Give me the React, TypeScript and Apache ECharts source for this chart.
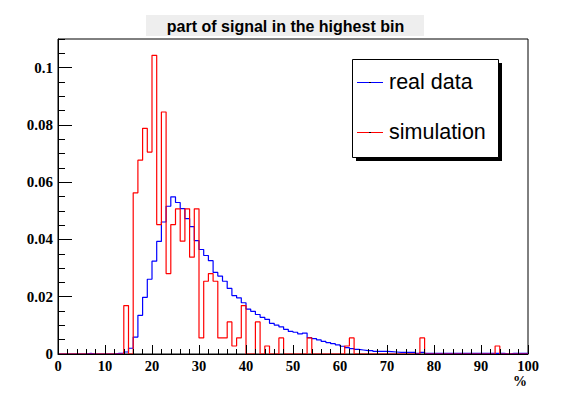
import React, { useEffect, useRef } from 'react';
import * as echarts from 'echarts';

// histogram range (100 bins of width 1 between 0 and 100 %)
const xRange = [0, 100];

// "real data" – normalised bin contents, bins 0..99
const realData = [
  0, 0, 0, 0, 0, 0, 0.0002, 0, 0, 0,
  0, 0, 0.0002, 0.0003, 0.0007, 0.002, 0.0059, 0.0135, 0.0198, 0.0261,
  0.0324, 0.0393, 0.0461, 0.0516, 0.0549, 0.0529, 0.0508, 0.0473, 0.0445, 0.0396,
  0.0365, 0.0344, 0.0326, 0.0285, 0.0272, 0.0254, 0.0229, 0.0204, 0.0196, 0.0179,
  0.0157, 0.0149, 0.0138, 0.0128, 0.0121, 0.0107, 0.0101, 0.0095, 0.0086, 0.0079,
  0.0076, 0.007, 0.0073, 0.0057, 0.0054, 0.0049, 0.0044, 0.004, 0.0036, 0.0032,
  0.0027, 0.0022, 0.0019, 0.0016, 0.0014, 0.0012, 0.0012, 0.0009, 0.0009, 0.0009,
  0.0008, 0.0007, 0.0006, 0.0006, 0.0006, 0.0006, 0.0002, 0.0006, 0.0002, 0.0002,
  0.0002, 0.0002, 0.0002, 0.0002, 0.0002, 0.0002, 0.0002, 0.0002, 0.0002, 0.0002,
  0.0002, 0.0002, 0.0002, 0.0002, 0.0002, 0, 0.0002, 0.0002, 0.0002, 0.0002,
];

// "simulation" – normalised bin contents, bins 0..99
const simulation = [
  0, 0, 0, 0, 0, 0, 0, 0, 0, 0,
  0, 0, 0, 0, 0.0169, 0, 0.0563, 0.0677, 0.0788, 0.0705,
  0.1043, 0.0452, 0.0845, 0.0281, 0.0452, 0.0507, 0.0394, 0.0507, 0.0338, 0.0507,
  0.0056, 0.0254, 0.0281, 0.0254, 0.0056, 0.0056, 0.0112, 0.0028, 0.0056, 0.0169,
  0, 0, 0.0112, 0, 0.0028, 0, 0, 0.0056, 0, 0,
  0, 0, 0, 0.0056, 0, 0, 0, 0, 0, 0,
  0, 0.0028, 0.0056, 0, 0, 0, 0, 0, 0, 0,
  0, 0, 0, 0, 0, 0, 0, 0.0056, 0, 0,
  0, 0, 0, 0, 0, 0, 0, 0, 0, 0,
  0, 0, 0, 0.0028, 0, 0, 0, 0, 0, 0,
];

const seriesNames = ['real data', 'simulation'];
const seriesColors = ['#0000ff', '#ff0000'];
const titleText = 'part of signal in the highest bin';
const xUnit = '%';

function stepPoints(values: number[]): number[][] {
  const w = (xRange[1] - xRange[0]) / values.length;
  const pts = values.map((v, i) => [xRange[0] + i * w, v]);
  pts.push([xRange[1], values[values.length - 1]]);
  return pts;
}

export default function App() {
  const ref = useRef<HTMLDivElement>(null);
  useEffect(() => {
    if (!ref.current) return;
    const chart = echarts.init(ref.current, undefined, { renderer: 'svg' });
    const labelFont = {
      color: '#000',
      fontFamily: '"Liberation Serif", serif',
      fontWeight: 'bold' as const,
      fontSize: 15,
    };
    chart.setOption({
      animation: false,
      backgroundColor: '#fff',
      grid: {
        left: 58,
        top: 39,
        width: 470,
        height: 315,
        show: true,
        borderColor: '#000',
        borderWidth: 1,
        backgroundColor: 'transparent',
      },
      xAxis: {
        type: 'value',
        min: xRange[0],
        max: xRange[1],
        interval: 10,
        z: 5,
        axisLine: { show: true, onZero: false, lineStyle: { color: '#000', width: 1 } },
        axisTick: { show: true, inside: true, length: 9, lineStyle: { color: '#000' } },
        minorTick: { show: true, splitNumber: 5, length: 5, lineStyle: { color: '#000' } },
        splitLine: { show: false },
        axisLabel: { ...labelFont, fontSize: 14.5, margin: 4 },
      },
      yAxis: [
        {
          type: 'value',
          min: 0,
          max: 0.11,
          interval: 0.02,
          position: 'left',
          z: 5,
          axisLine: { show: true, onZero: false, lineStyle: { color: '#000', width: 1 } },
          axisTick: { show: true, inside: true, length: 14, lineStyle: { color: '#000' } },
          splitLine: { show: false },
          axisLabel: {
            ...labelFont,
            margin: 5,
            showMaxLabel: false,
            formatter: (v: number) => String(parseFloat(v.toFixed(3))),
          },
        },
        {
          type: 'value',
          min: 0,
          max: 0.11,
          interval: 0.005,
          position: 'left',
          offset: 0,
          z: 5,
          axisLine: { show: false },
          axisTick: { show: true, inside: true, length: 7, lineStyle: { color: '#000' } },
          splitLine: { show: false },
          axisLabel: { show: false },
        },
      ],
      series: [realData, simulation].map((vals, i) => ({
        name: seriesNames[i],
        type: 'line',
        step: 'end',
        symbol: 'none',
        yAxisIndex: 0,
        data: stepPoints(vals),
        lineStyle: { color: seriesColors[i], width: 1.2 },
        itemStyle: { color: seriesColors[i] },
        z: 2 + i,
      })),
      graphic: [
        {
          type: 'group',
          z: 20,
          children: [
            { type: 'rect', shape: { x: 146, y: 15, width: 278, height: 21 }, style: { fill: '#eeeeee' } },
            {
              type: 'text',
              x: 285.5,
              y: 26,
              style: {
                text: titleText,
                font: 'bold 16px "Liberation Sans", Arial, sans-serif',
                fill: '#000',
                align: 'center',
                verticalAlign: 'middle',
              },
            },
            { type: 'rect', shape: { x: 356, y: 63, width: 146, height: 98 }, style: { fill: '#000' } },
            {
              type: 'rect',
              shape: { x: 352.5, y: 59.5, width: 146, height: 98 },
              style: { fill: '#fff', stroke: '#000', lineWidth: 1 },
            },
            ...seriesNames.flatMap((name, i) => {
              const y = 82.5 + i * 50;
              return [
                { type: 'line', shape: { x1: 357, y1: y, x2: 383, y2: y }, style: { stroke: seriesColors[i], lineWidth: 1 } },
                { type: 'line', shape: { x1: 369, y1: y, x2: 371, y2: y }, style: { stroke: '#000', lineWidth: 1 } },
                {
                  type: 'text',
                  x: 389,
                  y: y - 0.5,
                  style: {
                    text: name,
                    font: '21.5px "Liberation Sans", Arial, sans-serif',
                    fill: '#000',
                    align: 'left',
                    verticalAlign: 'middle',
                  },
                },
              ];
            }),
            {
              type: 'text',
              x: 527,
              y: 381,
              style: {
                text: xUnit,
                font: 'bold 14px "Liberation Serif", serif',
                fill: '#000',
                align: 'right',
                verticalAlign: 'middle',
              },
            },
          ],
        },
      ],
    });
    return () => chart.dispose();
  }, []);
  return (
    <div
      ref={ref}
      style={{ position: 'fixed', left: 0, top: 0, width: 587, height: 394 }}
    />
  );
}
